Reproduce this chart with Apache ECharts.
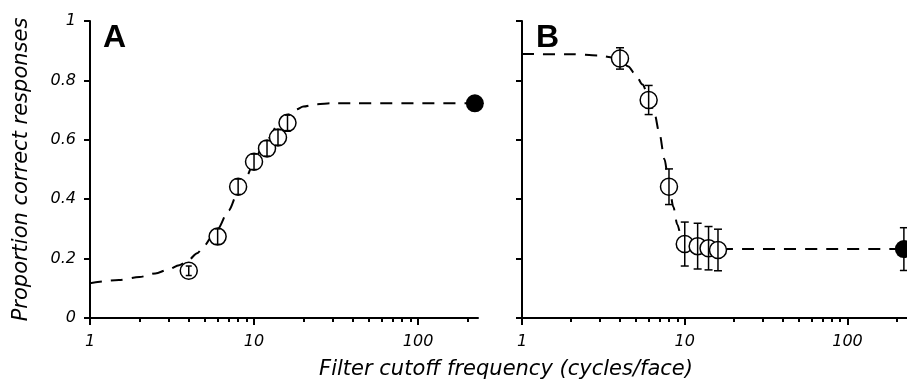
<!DOCTYPE html>
<html>
<head>
<meta charset="utf-8">
<script src="https://cdn.jsdelivr.net/npm/echarts@6/dist/echarts.min.js"></script>
<style>
  html, body { margin: 0; padding: 0; background: #fff; }
  #main { width: 907px; height: 384px; }
</style>
</head>
<body>
<div id="main"></div>
<script>
// panel A: proportion correct vs filter cutoff
const freqs = [4, 6, 8, 10, 12, 14, 16];
const fullFreq = 222;
const accA = [0.159, 0.274, 0.442, 0.526, 0.571, 0.608, 0.657];
const errA = [0.016, 0.026, 0.026, 0.026, 0.026, 0.026, 0.026];
const fullA = 0.723;
const fullErrA = 0;
const fitA = [
  [1, 0.117], [1.5, 0.128], [2, 0.138], [2.5, 0.150], [3, 0.163], [3.5, 0.178],
  [4, 0.196], [4.5, 0.218], [5, 0.245], [5.5, 0.272], [6, 0.300], [7, 0.362],
  [8, 0.425], [9, 0.478], [10, 0.525], [11, 0.566], [12, 0.600], [14, 0.650],
  [16, 0.683], [18, 0.702], [20, 0.712], [24, 0.720], [30, 0.723], [232, 0.723]
];

// panel B
const accB = [0.874, 0.734, 0.442, 0.249, 0.242, 0.235, 0.229];
const errB = [0.036, 0.049, 0.06, 0.074, 0.077, 0.073, 0.07];
const fullB = 0.232;
const fullErrB = 0.072;
const fitB = [
  [1, 0.889], [2, 0.888], [3, 0.884], [3.5, 0.878], [4, 0.867], [4.5, 0.847],
  [5, 0.818], [5.5, 0.786], [6, 0.745], [6.5, 0.69], [7, 0.62], [7.5, 0.535],
  [8, 0.45], [8.5, 0.375], [9, 0.315], [9.5, 0.275], [10, 0.253], [11, 0.240],
  [12, 0.236], [14, 0.233], [16, 0.232], [232, 0.232]
];

const majorTicks = [1, 10, 100];
const minorTicks = [2, 3, 4, 5, 6, 7, 8, 9, 20, 30, 40, 50, 60, 70, 80, 90, 200];

const FONT = 'DejaVu Sans';
const xMax = 232;

const chart = echarts.init(document.getElementById('main'));

function errRenderer(capHalf) {
  return function (params, api) {
    const x = api.value(0);
    const top = api.coord([x, api.value(2)]);
    const bot = api.coord([x, api.value(1)]);
    const st = { stroke: '#000', lineWidth: 1.5 };
    return {
      type: 'group',
      children: [
        { type: 'line', shape: { x1: top[0], y1: top[1], x2: bot[0], y2: bot[1] }, style: st },
        { type: 'line', shape: { x1: top[0] - capHalf, y1: top[1], x2: top[0] + capHalf, y2: top[1] }, style: st },
        { type: 'line', shape: { x1: bot[0] - capHalf, y1: bot[1], x2: bot[0] + capHalf, y2: bot[1] }, style: st }
      ]
    };
  };
}

function xAxes(grid) {
  return [
    {
      type: 'log', gridIndex: grid, min: 1, max: xMax, logBase: 10,
      axisLine: { lineStyle: { color: '#000', width: 2 } },
      axisTick: { customValues: majorTicks, length: 7, lineStyle: { width: 2 } },
      axisLabel: {
        customValues: majorTicks, margin: 16, color: '#000',
        fontFamily: FONT, fontStyle: 'italic', fontSize: 16
      },
      splitLine: { show: false }
    },
    {
      type: 'log', gridIndex: grid, min: 1, max: xMax, logBase: 10, position: 'bottom',
      axisLine: { show: false },
      axisTick: { customValues: minorTicks, length: 4, lineStyle: { color: '#000', width: 2 } },
      axisLabel: { show: false },
      splitLine: { show: false }
    }
  ];
}

function yAxis(grid, labels) {
  return {
    type: 'value', gridIndex: grid, min: 0, max: 1, interval: 0.2,
    axisLine: { show: true, lineStyle: { color: '#000', width: 2 } },
    axisTick: { show: true, length: 6, lineStyle: { width: 2 } },
    axisLabel: {
      show: labels, margin: 14, color: '#000',
      fontFamily: FONT, fontStyle: 'italic', fontSize: 16
    },
    splitLine: { show: false },
    name: labels ? 'Proportion correct responses' : '',
    nameLocation: 'middle',
    nameGap: 58,
    nameTextStyle: { color: '#000', fontFamily: FONT, fontStyle: 'italic', fontSize: 21 }
  };
}

function panelSeries(xi, yi, acc, err, fit, full, fullErr, capHalf) {
  return [
    {
      type: 'line', xAxisIndex: xi, yAxisIndex: yi, data: fit,
      showSymbol: false, smooth: 0.3, smoothMonotone: 'x',
      lineStyle: { color: '#000', width: 2, type: [12, 9] }, z: 2
    },
    {
      type: 'scatter', xAxisIndex: xi, yAxisIndex: yi,
      data: freqs.map((f, i) => [f, acc[i]]),
      symbol: 'circle', symbolSize: 17,
      itemStyle: { color: '#fff', borderColor: '#000', borderWidth: 1.5, opacity: 1 }, z: 3
    },
    {
      type: 'scatter', xAxisIndex: xi, yAxisIndex: yi,
      data: [[fullFreq, full]],
      symbol: 'circle', symbolSize: 18,
      itemStyle: { color: '#000', opacity: 1 }, z: 3
    },
    {
      type: 'custom', xAxisIndex: xi, yAxisIndex: yi,
      data: freqs.map((f, i) => [f, acc[i] - err[i], acc[i] + err[i]])
        .concat(fullErr > 0 ? [[fullFreq, full - fullErr, full + fullErr]] : []),
      renderItem: errRenderer(capHalf), z: 4
    }
  ];
}

const option = {
  backgroundColor: '#fff',
  animation: false,
  grid: [
    { left: 90, top: 21, width: 388, height: 297 },
    { left: 522, top: 21, width: 388, height: 297 }
  ],
  xAxis: xAxes(0).concat(xAxes(1)),
  yAxis: [yAxis(0, true), yAxis(1, false)],
  series: panelSeries(0, 0, accA, errA, fitA, fullA, fullErrA, 3)
    .concat(panelSeries(2, 1, accB, errB, fitB, fullB, fullErrB, 4)),
  graphic: [
    { type: 'text', left: 103, top: 22, style: { text: 'A', font: 'bold 32px "Liberation Sans"', fill: '#000' } },
    { type: 'text', left: 536, top: 22, style: { text: 'B', font: 'bold 32px "Liberation Sans"', fill: '#000' } },
    {
      type: 'text', x: 506, y: 370,
      style: {
        text: 'Filter cutoff frequency (cycles/face)', fill: '#000',
        font: 'italic 21px "DejaVu Sans"', textAlign: 'center', textVerticalAlign: 'middle'
      }
    }
  ]
};

chart.setOption(option);
</script>
</body>
</html>
